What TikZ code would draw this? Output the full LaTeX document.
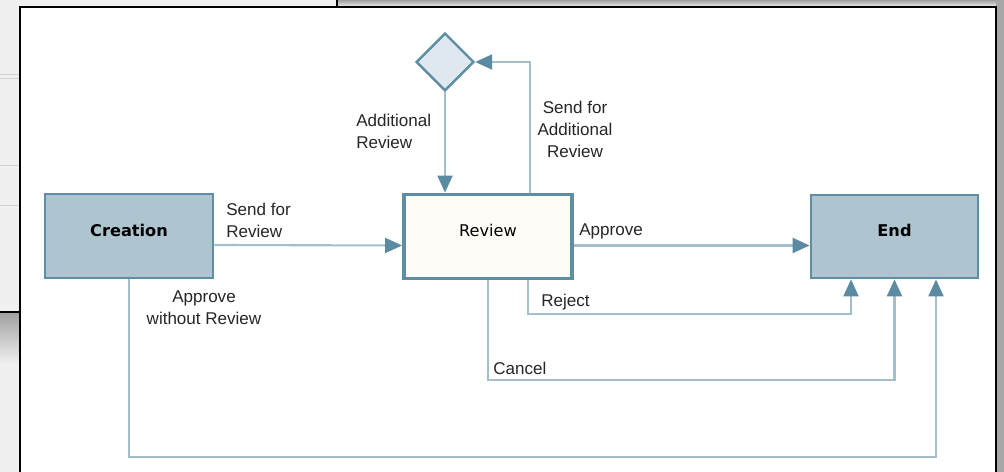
\documentclass[tikz,border=0pt]{standalone}
\usepackage{fontspec}
\setmainfont{Liberation Sans}
\newfontfamily\boxfont{DejaVu Sans}
\usetikzlibrary{shapes.geometric}
\usetikzlibrary{arrows.meta}
\definecolor{stepfill}{HTML}{AEC4CF}
\definecolor{stepdraw}{HTML}{5E8EA4}
\definecolor{reviewfill}{HTML}{FEFCF7}
\definecolor{choicefill}{HTML}{DFE8EF}
\definecolor{flowline}{HTML}{A3BFCC}
\definecolor{flowtip}{HTML}{5B8BA3}
\tikzset{stepbox/.style={rectangle, draw=stepdraw, fill=stepfill, line width=1.6pt,
   minimum width=3.36cm, minimum height=1.68cm, text depth=0.24cm,
   font=\boxfont\fontsize{9.2}{11}\selectfont\bfseries},
 reviewbox/.style={stepbox, fill=reviewfill, line width=2.2pt,
   font=\boxfont\fontsize{9.2}{11}\selectfont},
 choice/.style={diamond, aspect=1, draw=stepdraw, fill=choicefill, line width=1.4pt,
   minimum width=1.16cm, minimum height=1.16cm, inner sep=0pt},
 flow/.style={draw=flowline, line width=1.2pt,
   -{Triangle[length=0.34cm, width=0.3cm, color=flowtip]}},
 flowlabel/.style={inner sep=0pt, text=black!85, font=\fontsize{9.7}{12.5}\selectfont},
 }

\begin{document}
\begin{tikzpicture}[x=0.02cm, y=-0.02cm]
        \useasboundingbox (0,0) rectangle (1004,472);
        \clip (0,0) rectangle (1004,472);
        % screen behind the panel
        \fill[gray!12] (0,0) rectangle (1004,472);
        \shade[top color=gray!75, bottom color=gray!10] (337,0) rectangle (1004,7);
        \shade[top color=gray!75, bottom color=gray!10] (0,312) rectangle (20,365);
        \fill[gray!70] (996,0) rectangle (1004,472);
        \foreach \y in {74, 78, 165, 205} {
            \draw[gray!35] (0,\y) -- (20,\y);
        }
        \draw[black, line width=1pt] (0,312) -- (20,312);
        \draw[black, line width=1pt] (337,0) -- (337,7);
        % panel
        \draw[black, line width=1.2pt, fill=white] (20,7) rectangle (996,480);

        \node[stepbox] (creation) at (129,236) {Creation};
        \node[reviewbox] (review) at (488,236.5) {Review};
        \node[stepbox, minimum width=3.34cm, minimum height=1.66cm] (end) at (894.5,236.5) {End};
        \node[choice] (extra) at (445,62) {};

        \draw[flow] ([yshift=-0.18cm]creation.east) -- ([yshift=-0.18cm]review.west);
        \draw[flow] ([yshift=-0.18cm]review.east) -- ([yshift=-0.18cm]end.west);
        \draw[flow] (extra.south) -- (extra.south |- review.north);
        \draw[flow] ([xshift=0.84cm]review.north) |- (extra.east);
        \draw[flow] ([xshift=0.8cm]review.south) -- ++(0,34) -| ([xshift=-0.87cm]end.south);
        \draw[flow] (review.south) -- ++(0,100) -| (end.south);
        \draw[flow] (creation.south) -- ++(0,178) -| ([xshift=0.83cm]end.south);

        \node[flowlabel, anchor=west, align=left] (sendrev) at (226,220) {Send for\\Review};
        \node[flowlabel, anchor=west, align=left] (addrev) at (356,131) {Additional\\Review};
        \node[flowlabel, align=center] (sendadd) at (575,129) {Send for\\Additional\\Review};
        \node[flowlabel, anchor=west] (approve) at (579,231) {Approve};
        \node[flowlabel, align=center] (direct) at (204,308) {Approve\\without Review};
        \node[flowlabel, anchor=west] (reject) at (541,302) {Reject};
        \node[flowlabel, anchor=west] (cancel) at (493,368) {Cancel};
    \end{tikzpicture}
\end{document}
